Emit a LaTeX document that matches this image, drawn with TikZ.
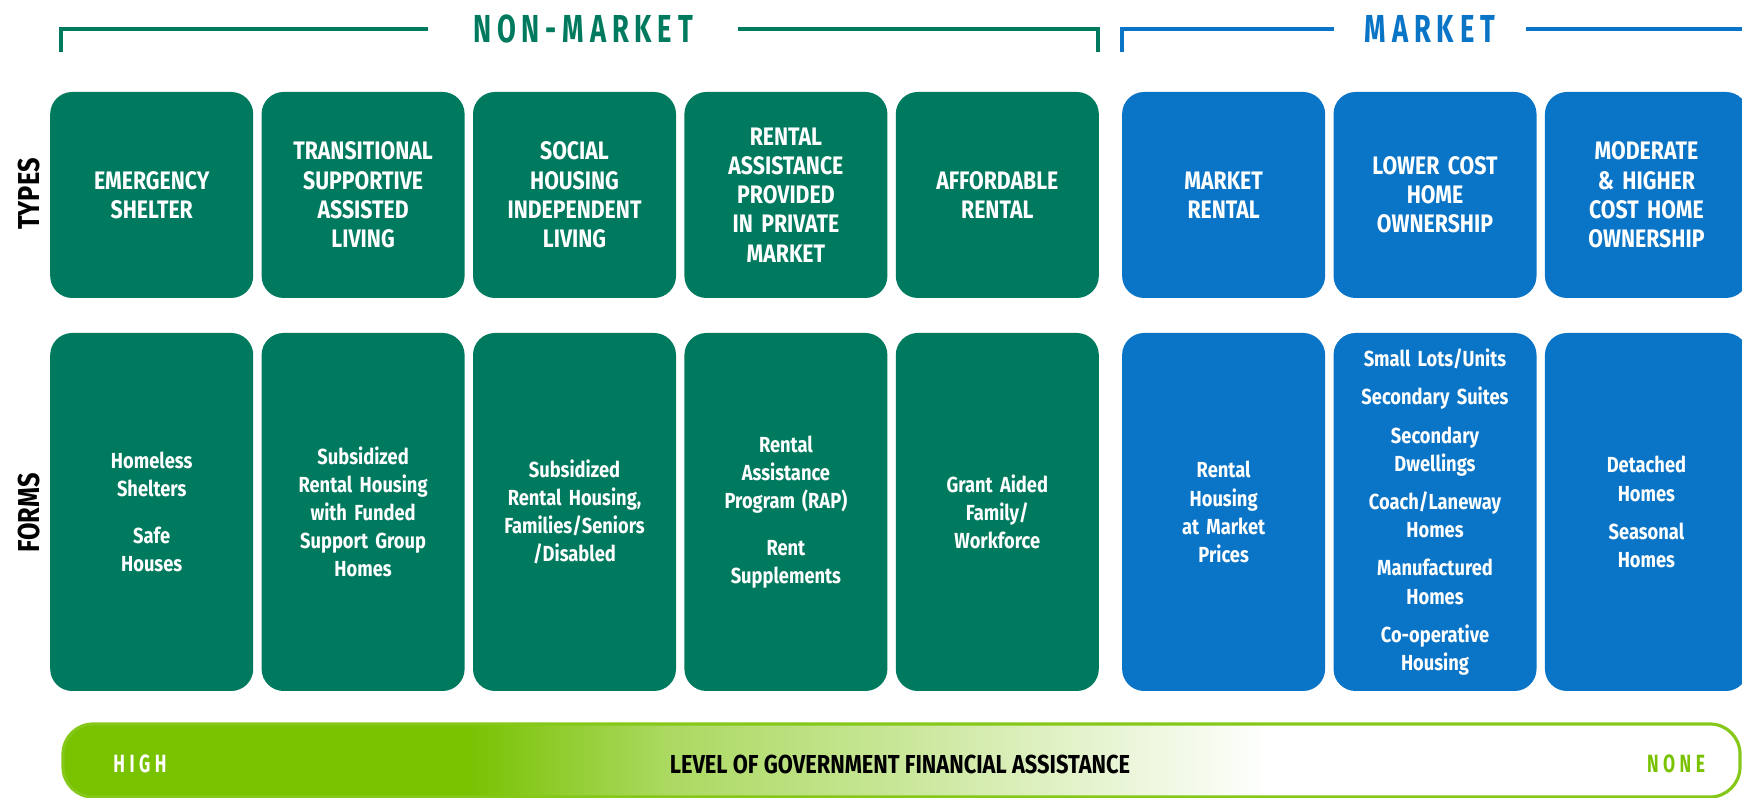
\documentclass[tikz,border=0pt]{standalone}
\usepackage{fontspec}
\setmainfont{Fira Sans}[FakeStretch=0.84]
\newfontfamily\headfont{Fira Sans}[FakeStretch=0.70]
\usepackage{xcolor}
\usepackage{tikz}
\usetikzlibrary{
    positioning
}
\definecolor{nmgreen}{HTML}{007A5E}
\definecolor{mkblue}{HTML}{0A74C6}
\definecolor{bargreen}{HTML}{78C200}
\pgfdeclarehorizontalshading{govshade}{100bp}{
    color(0bp)=(bargreen); color(37bp)=(bargreen);
    color(43bp)=(bargreen!62); color(50bp)=(bargreen!40);
    color(57bp)=(bargreen!14); color(61bp)=(white); color(100bp)=(white)}
\tikzstyle{typebox} = [
    rounded corners=0.22cm,
    minimum width=2.03cm,
    minimum height=2.06cm,
    text width=1.95cm,
    inner sep=0pt,
    outer sep=0pt,
    align=center,
    text=white,
    font=\bfseries\fontsize{7.2}{8.3}\selectfont
]
\tikzstyle{formbox} = [
    typebox,
    minimum height=3.58cm,
    font=\bfseries\fontsize{6.2}{8}\selectfont
]
\tikzstyle{nonmarket} = [fill=nmgreen]
\tikzstyle{market} = [fill=mkblue]
\tikzstyle{rowlabel} = [
    rotate=90,
    font=\bfseries\fontsize{8.6}{9}\selectfont
]
\tikzstyle{bracket} = [
    line width=1.1pt
]
\tikzstyle{header} = [
    font=\headfont\bfseries\fontsize{11.1}{12}\selectfont\addfontfeature{LetterSpace=15}
]
\tikzstyle{barend} = [
    font=\headfont\bfseries\fontsize{7.1}{8}\selectfont\addfontfeature{LetterSpace=18}
]

\begin{document}
\begin{tikzpicture}
\useasboundingbox (0,0) rectangle (17.42,7.98);
\clip (0,0) rectangle (17.42,7.98);

% brackets
\node[header, text=nmgreen, inner xsep=0.44cm] (nonmkt) at (5.83,7.69) {NON-MARKET};
\node[header, text=mkblue, inner xsep=0.30cm]  (mkt)    at (14.30,7.69) {MARKET};
\draw[bracket, nmgreen] (0.61,7.46) |- (nonmkt.west);
\draw[bracket, nmgreen] (nonmkt.east) -| (10.98,7.46);
\draw[bracket, mkblue]  (11.22,7.46) |- (mkt.west);
\draw[bracket, mkblue]  (mkt.east) -- ++(4,0);

% row labels
\node[rowlabel] (types) at (0.29,6.04) {TYPES};
\node[rowlabel] (forms) at (0.29,2.85) {FORMS};

% types
\node[typebox, nonmarket] (emerg) at (1.517,6.03) {EMERGENCY\\SHELTER};
\node[typebox, nonmarket, right=0.084cm of emerg] (transit) {TRANSITIONAL\\SUPPORTIVE\\ASSISTED\\LIVING};
\node[typebox, nonmarket, right=0.084cm of transit] (social) {SOCIAL\\HOUSING\\INDEPENDENT\\LIVING};
\node[typebox, nonmarket, right=0.084cm of social] (rentassist) {RENTAL\\ASSISTANCE\\PROVIDED\\IN PRIVATE\\MARKET};
\node[typebox, nonmarket, right=0.084cm of rentassist] (afford) {AFFORDABLE\\RENTAL};
\node[typebox, market, right=0.233cm of afford] (mktrental) {MARKET\\RENTAL};
\node[typebox, market, right=0.084cm of mktrental] (lowcost) {LOWER COST\\HOME\\OWNERSHIP};
\node[typebox, market, right=0.084cm of lowcost] (modcost) {MODERATE\\\& HIGHER\\COST HOME\\OWNERSHIP};

% forms
\node[formbox, nonmarket, below=0.35cm of emerg] (homeless) {Homeless\\Shelters\\[5.4pt]Safe\\Houses};
\node[formbox, nonmarket, below=0.35cm of transit] (subsid) {Subsidized\\Rental Housing\\with Funded\\Support Group\\Homes};
\node[formbox, nonmarket, below=0.35cm of social] (subfam) {Subsidized\\Rental Housing,\\Families/Seniors\\/Disabled};
\node[formbox, nonmarket, below=0.35cm of rentassist] (rap) {Rental\\Assistance\\Program (RAP)\\[5.4pt]Rent\\Supplements};
\node[formbox, nonmarket, below=0.35cm of afford] (grant) {Grant Aided\\Family/\\Workforce};
\node[formbox, market, below=0.35cm of mktrental] (rentmkt) {Rental\\Housing\\at Market\\Prices};
\node[formbox, market, below=0.35cm of lowcost] (smallunits) {Small Lots/Units\\[2.9pt]Secondary Suites\\[2.9pt]Secondary\\Dwellings\\[2.9pt]Coach/Laneway\\Homes\\[2.9pt]Manufactured\\Homes\\[2.9pt]Co-operative\\Housing};
\node[formbox, market, below=0.35cm of modcost] (detached) {Detached\\Homes\\[2.8pt]Seasonal\\Homes};

% assistance bar
\node[shading=govshade, draw=bargreen!90, line width=0.9pt, rounded corners=0.3cm,
      minimum width=16.77cm, minimum height=0.73cm] (bar) at (9.015,0.375) {};
\node[barend, text=white] (high) at (1.40,0.34) {HIGH};
\node[font=\bfseries\fontsize{7.4}{8}\selectfont] (level) at (9.00,0.34) {LEVEL OF GOVERNMENT FINANCIAL ASSISTANCE};
\node[barend, text=bargreen] (none) at (16.76,0.34) {NONE};
\end{tikzpicture}
\end{document}
